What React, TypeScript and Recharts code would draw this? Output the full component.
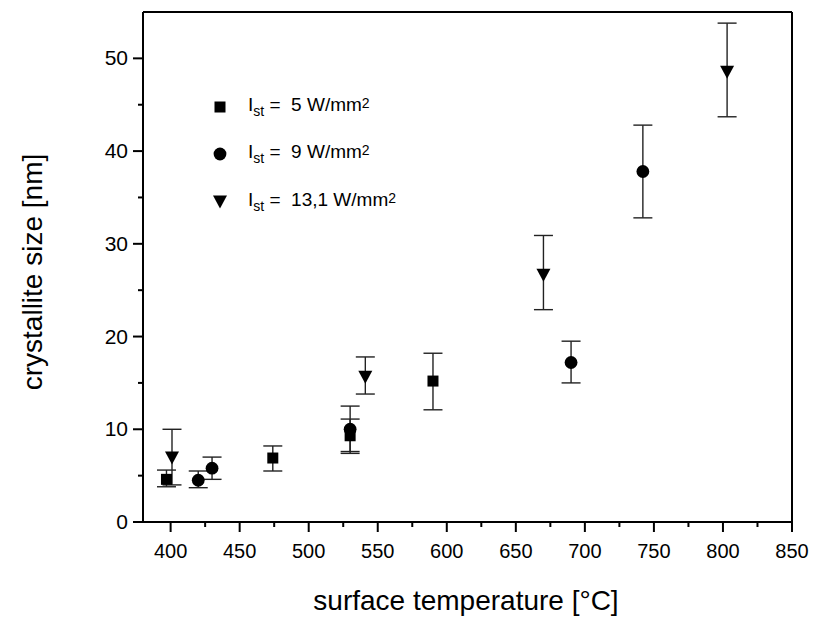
import React from 'react'
import {
  ScatterChart,
  Scatter,
  XAxis,
  YAxis,
  ErrorBar,
  ReferenceLine,
  Legend,
  Label,
} from 'recharts'

// surface temperature [°C], crystallite size [nm], error [down, up]
const temps5 = [397, 474, 530, 590]
const sizes5 = [4.6, 6.9, 9.3, 15.2]
const errs5 = [[0.8, 1.0], [1.4, 1.3], [1.9, 1.8], [3.1, 3.0]]

const temps9 = [420, 430, 530, 690, 742]
const sizes9 = [4.5, 5.8, 10.0, 17.2, 37.8]
const errs9 = [[0.8, 1.0], [1.2, 1.2], [2.4, 2.5], [2.2, 2.3], [5.0, 5.0]]

const temps13 = [401, 541, 670, 803]
const sizes13 = [6.9, 15.6, 26.6, 48.5]
const errs13 = [[2.9, 3.1], [1.8, 2.2], [3.7, 4.3], [4.8, 5.3]]

const seriesIntensity = ['5', '9', '13,1']

const xTicks = [400, 425, 450, 475, 500, 525, 550, 575, 600, 625, 650, 675, 700, 725, 750, 775, 800, 825, 850]
const yTicks = [0, 5, 10, 15, 20, 25, 30, 35, 40, 45, 50]

const FONT = '"Liberation Sans", Arial, sans-serif'

function rows(t: number[], s: number[], e: number[][]) {
  return t.map((v, i) => ({t: v, s: s[i], e: e[i]}))
}

const data5 = rows(temps5, sizes5, errs5)
const data9 = rows(temps9, sizes9, errs9)
const data13 = rows(temps13, sizes13, errs13)

function SquareMark(p: any) {
  return <rect x={p.cx - 5.5} y={p.cy - 5.5} width={11} height={11} fill="#000" />
}
function CircleMark(p: any) {
  return <circle cx={p.cx} cy={p.cy} r={6.4} fill="#000" />
}
function TriangleMark(p: any) {
  const {cx, cy} = p
  return (
    <path
      d={`M${cx - 7},${cy - 6.5}L${cx + 7},${cy - 6.5}L${cx},${cy + 6.5}Z`}
      fill="#000"
    />
  )
}

const marks = [SquareMark, CircleMark, TriangleMark]

function XTick(p: any) {
  const v = p.payload.value
  const major = v % 50 === 0
  return (
    <g>
      <line x1={p.x} x2={p.x} y1={p.y} y2={p.y + (major ? 10 : 5)} stroke="#000" strokeWidth={2} />
      {major && (
        <text x={p.x} y={p.y + 36} textAnchor="middle" fontSize={20} fontFamily={FONT} fill="#000">
          {v}
        </text>
      )}
    </g>
  )
}

function YTick(p: any) {
  const v = p.payload.value
  const major = v % 10 === 0
  return (
    <g>
      <line x1={p.x} x2={p.x - (major ? 10 : 5)} y1={p.y} y2={p.y} stroke="#000" strokeWidth={2} />
      {major && (
        <text x={p.x - 15} y={p.y + 7} textAnchor="end" fontSize={21} fontFamily={FONT} fill="#000">
          {v}
        </text>
      )}
    </g>
  )
}

function LegendBox() {
  return (
    <div style={{fontFamily: FONT, color: '#000'}}>
      {seriesIntensity.map((v, i) => {
        const Mark = marks[i]
        return (
          <div key={v} style={{display: 'flex', alignItems: 'center', height: 47.5}}>
            <svg width={20} height={16}>
              <Mark cx={10} cy={8} />
            </svg>
            <span style={{marginLeft: 18, fontSize: 19, whiteSpace: 'pre', lineHeight: '20px'}}>
              I<sub style={{fontSize: 14}}>st</sub>
              {' =  ' + v + ' W/mm'}
              <sup style={{fontSize: 14, verticalAlign: '3px'}}>2</sup>
            </span>
          </div>
        )
      })}
    </div>
  )
}

export default function App() {
  return (
    <div style={{position: 'absolute', left: 0, top: 0, width: 815, height: 619, background: '#fff'}}>
      <ScatterChart
        width={815}
        height={619}
        margin={{top: 12, right: 23, bottom: 67, left: 83}}
      >
        <XAxis
          type="number"
          dataKey="t"
          domain={[380, 850]}
          ticks={xTicks}
          interval={0}
          height={30}
          tickSize={0}
          tickMargin={0}
          tickLine={false}
          tick={<XTick />}
          axisLine={{stroke: '#000', strokeWidth: 2}}
          allowDataOverflow
        >
          <Label
            content={() => (
              <text x={466} y={610} textAnchor="middle" fontSize={28} fontFamily={FONT} fill="#000">
                surface temperature [°C]
              </text>
            )}
          />
        </XAxis>
        <YAxis
          type="number"
          dataKey="s"
          domain={[0, 55]}
          ticks={yTicks}
          interval={0}
          width={60}
          tickSize={0}
          tickMargin={0}
          tickLine={false}
          tick={<YTick />}
          axisLine={{stroke: '#000', strokeWidth: 2}}
          allowDataOverflow
        >
          <Label
            content={() => (
              <text
                x={42}
                y={272}
                transform="rotate(-90 42 272)"
                textAnchor="middle"
                fontSize={28}
                fontFamily={FONT}
                fill="#000"
              >
                crystallite size [nm]
              </text>
            )}
          />
        </YAxis>
        <ReferenceLine y={55} stroke="#000" strokeWidth={2} />
        <ReferenceLine x={850} stroke="#000" strokeWidth={2} />
        <Legend
          layout="vertical"
          align="center"
          verticalAlign="middle"
          wrapperStyle={{left: 210, top: 83, width: 'auto'}}
          content={() => <LegendBox />}
        />
        <Scatter name="5 W/mm2" data={data5} shape={<SquareMark />} isAnimationActive={false}>
          <ErrorBar dataKey="e" direction="y" width={9.5} stroke="#222" strokeWidth={1.4} />
        </Scatter>
        <Scatter name="9 W/mm2" data={data9} shape={<CircleMark />} isAnimationActive={false}>
          <ErrorBar dataKey="e" direction="y" width={9.5} stroke="#222" strokeWidth={1.4} />
        </Scatter>
        <Scatter name="13,1 W/mm2" data={data13} shape={<TriangleMark />} isAnimationActive={false}>
          <ErrorBar dataKey="e" direction="y" width={9.5} stroke="#222" strokeWidth={1.4} />
        </Scatter>
      </ScatterChart>
    </div>
  )
}
